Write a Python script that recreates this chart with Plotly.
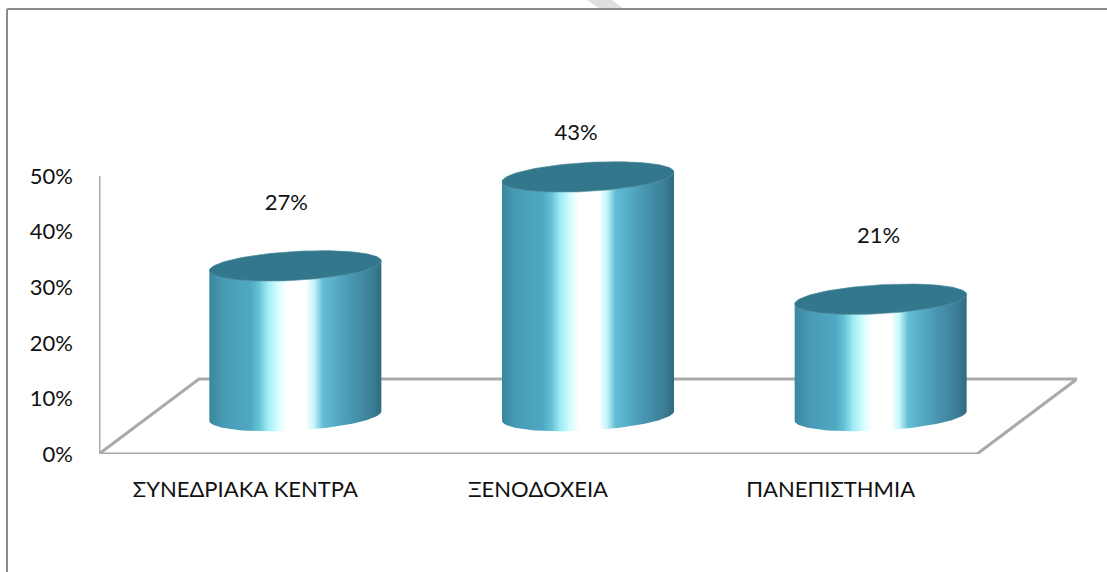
import numpy as np
import plotly.graph_objects as go

# Chart data
categories = ["ΣΥΝΕΔΡΙΑΚΑ ΚΕΝΤΡΑ", "ΞΕΝΟΔΟΧΕΙΑ", "ΠΑΝΕΠΙΣΤΗΜΙΑ"]
shares = [27, 43, 21]
y_ticks = [0, 10, 20, 30, 40, 50]

# Page and plot geometry (pixels)
WIDTH, HEIGHT = 1107, 572
LEFT, RIGHT_GAP, TOP, BOTTOM_GAP = 99, 30, 54, 118
PLOT_W = WIDTH - LEFT - RIGHT_GAP
PLOT_H = HEIGHT - TOP - BOTTOM_GAP
PX_PER_SLOT = 292.67
PX_PER_UNIT = 5.56

# Pseudo-3D offsets, converted to axis units
DEPTH_X = 100 / PX_PER_SLOT
DEPTH_Y = 75 / PX_PER_UNIT
BAR_DX = 50 / PX_PER_SLOT
BAR_BASE = 38 / PX_PER_UNIT
RADIUS_X = 86 / PX_PER_SLOT
RADIUS_Y = 14.5 / PX_PER_UNIT
TILT_Y = 4.8 / PX_PER_UNIT

# Data label offsets from each cylinder's top centre
LABEL_DX = [-9 / PX_PER_SLOT, -12 / PX_PER_SLOT, -2 / PX_PER_SLOT]
LABEL_LIFT = [61 / PX_PER_UNIT, 42 / PX_PER_UNIT, 62 / PX_PER_UNIT]

AXIS_GREY = "#aaaaaa"
FRAME_GREY = "#8c8c8c"
TEXT = "#111111"
FONT = "Lato, 'Open Sans', sans-serif"
CAP_COLOR = "#33778c"
BODY_STOPS = [
    [0.00, "#3a879f"], [0.08, "#479ab3"], [0.24, "#4fa9c3"], [0.29, "#66c4d6"],
    [0.34, "#9fecf5"], [0.40, "#d8fdff"], [0.45, "#ffffff"], [0.56, "#ffffff"],
    [0.61, "#c4f5fa"], [0.66, "#62bdd5"], [0.82, "#4997b3"], [0.94, "#3d7f98"],
    [1.00, "#2f6b80"],
]


def ellipse(cx, cy, t):
    """Points on a tilted ellipse; t=0 is the right end, which sits higher."""
    return cx + RADIUS_X * np.cos(t), cy + TILT_Y * np.cos(t) + RADIUS_Y * np.sin(t)


fig = go.Figure()

# Floor and vertical axis
floor_x = [-0.5, -0.5 + DEPTH_X, 2.5 + DEPTH_X, 2.5, -0.5]
floor_y = [0, DEPTH_Y, DEPTH_Y, 0, 0]
fig.add_trace(go.Scatter(x=floor_x, y=floor_y, mode="lines", cliponaxis=False,
                         line=dict(color=AXIS_GREY, width=3), hoverinfo="skip"))
fig.add_trace(go.Scatter(x=[-0.5, -0.5], y=[0, y_ticks[-1]], mode="lines", cliponaxis=False,
                         line=dict(color=AXIS_GREY, width=3), hoverinfo="skip"))

# Cylinders
for i, value in enumerate(shares):
    cx = i + BAR_DX
    top = BAR_BASE + value
    sweep = np.linspace(0, np.pi, 80)
    base_x, base_y = ellipse(cx, BAR_BASE, -sweep)
    upper_x, upper_y = ellipse(cx, top, np.pi - sweep)
    body_x = np.concatenate([base_x, upper_x, base_x[:1]])
    body_y = np.concatenate([base_y, upper_y, base_y[:1]])
    fig.add_trace(go.Scatter(
        x=body_x, y=body_y, mode="lines", fill="toself", line=dict(width=0),
        fillgradient=dict(type="horizontal", colorscale=BODY_STOPS,
                          start=cx - RADIUS_X, stop=cx + RADIUS_X),
        cliponaxis=False, hoverinfo="skip"))
    t = np.linspace(0, 2 * np.pi, 160)
    cap_x, cap_y = ellipse(cx, top, t)
    fig.add_trace(go.Scatter(x=cap_x, y=cap_y, mode="lines", fill="toself",
                             fillcolor=CAP_COLOR, line=dict(color="#5b93a5", width=0.6),
                             cliponaxis=False, hoverinfo="skip"))

# Value labels
fig.add_trace(go.Scatter(
    x=[i + BAR_DX + LABEL_DX[i] for i in range(len(shares))],
    y=[BAR_BASE + v + LABEL_LIFT[i] for i, v in enumerate(shares)],
    text=[f"{v}%" for v in shares], mode="text", cliponaxis=False,
    textposition="middle center", textfont=dict(family=FONT, size=22, color=TEXT),
    hoverinfo="skip"))


def paper_x(px):
    return (px - LEFT) / PLOT_W


def paper_y(py):
    return (HEIGHT - BOTTOM_GAP - py) / PLOT_H


# Outer frame (top and left edges) and the grey stroke above it
fig.add_shape(type="path", xref="paper", yref="paper", layer="below",
              fillcolor="#dedede", line=dict(width=0),
              path=f"M {paper_x(587)} {paper_y(0)} L {paper_x(600)} {paper_y(9)} "
                   f"L {paper_x(624)} {paper_y(9)} L {paper_x(612)} {paper_y(0)} Z")
fig.add_shape(type="line", xref="paper", yref="paper", line=dict(color=FRAME_GREY, width=2),
              x0=paper_x(7), x1=paper_x(WIDTH), y0=paper_y(9), y1=paper_y(9))
fig.add_shape(type="line", xref="paper", yref="paper", line=dict(color=FRAME_GREY, width=2),
              x0=paper_x(7), x1=paper_x(7), y0=paper_y(9), y1=paper_y(HEIGHT))

fig.update_layout(
    width=WIDTH, height=HEIGHT, showlegend=False,
    margin=dict(l=LEFT, r=RIGHT_GAP, t=TOP, b=BOTTOM_GAP, pad=0),
    paper_bgcolor="white", plot_bgcolor="white",
    xaxis=dict(range=[-0.5, 2.5 + DEPTH_X], tickvals=list(range(len(categories))),
               ticktext=categories, showgrid=False, zeroline=False, showline=False,
               ticks="", ticklabelstandoff=20, tickangle=0,
               tickfont=dict(family=FONT, size=22, color=TEXT)),
    yaxis=dict(range=[0, PLOT_H / PX_PER_UNIT], tickvals=y_ticks,
               ticktext=[f"{v}%" for v in y_ticks], showgrid=False, zeroline=False,
               showline=False, ticks="", ticklabelstandoff=25,
               tickfont=dict(family=FONT, size=22, color=TEXT)),
)

fig.write_html("out.html", config={"displayModeBar": False})
